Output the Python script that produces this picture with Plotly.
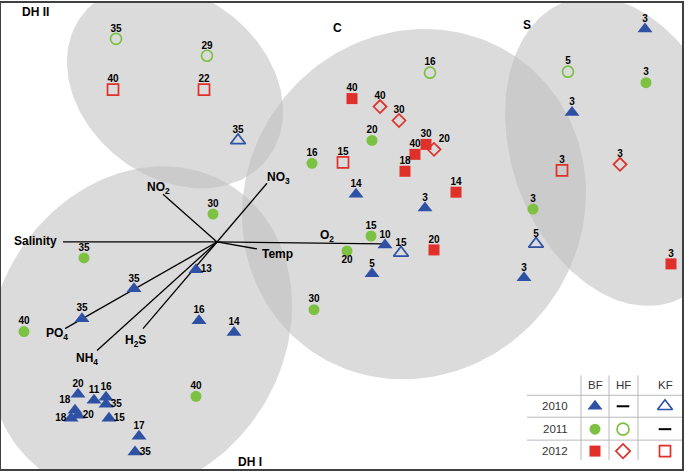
import numpy as np
import plotly.graph_objects as go

# site scores on the two ordination axes (plot units), text = sample depth
bf2010_x = [645, 572, 356, 425, 385, 372, 524, 196, 134, 82, 199, 234, 78, 94, 106, 106, 75, 78, 71, 109, 139, 135]
bf2010_y = [444, 360, 278, 264, 227, 198, 194, 202, 183, 153, 151, 139, 77, 71, 74, 67, 61, 56, 53, 53, 35, 19]
bf2010_lab = ["3", "3", "14", "3", "10", "5", "3", "13", "35", "35", "16", "14",
              "20", "11", "16", "35", "18", "20", "18", "15", "17", "35"]

bf2011_x = [646, 372, 312, 533, 213, 371, 347, 84, 314, 24, 196]
bf2011_y = [390, 332, 309, 263, 258, 236, 221, 214, 162, 140, 75]
bf2011_lab = ["3", "20", "16", "3", "30", "15", "20", "35", "30", "40", "40"]

bf2012_x = [352, 426, 415, 405, 456, 434, 671]
bf2012_y = [374, 328, 318, 301, 280, 222, 208]
bf2012_lab = ["40", "30", "40", "18", "14", "20", "3"]

hf2011_x = [116, 207, 430, 568]
hf2011_y = [434, 417, 400, 401]
hf2011_lab = ["35", "29", "16", "5"]

hf2012_x = [380, 399, 434, 620]
hf2012_y = [366, 352, 323, 308]
hf2012_lab = ["40", "30", "20", "3"]

kf2010_x = [238, 401, 536]
kf2010_y = [332, 219, 228]
kf2010_lab = ["35", "15", "5"]

kf2012_x = [113, 204, 343, 562]
kf2012_y = [383, 383, 310, 302]
kf2012_lab = ["40", "22", "15", "3"]

# environmental vectors (all start at the same origin)
env_names = ["Salinity", "O<sub>2</sub>", "Temp", "NO<sub>2</sub>", "NO<sub>3</sub>",
             "PO<sub>4</sub>", "NH<sub>4</sub>", "H<sub>2</sub>S"]
env_x0, env_y0 = 217, 230
env_x = [63, 383, 257, 163, 267, 65, 97, 143]
env_y = [230, 228, 223, 278, 289, 143, 121, 143]

# group ellipses
grp_names = ["DH II", "C", "S", "DH I"]
ell_cx = [175, 414, 620, 140]
ell_cy = [386, 268, 321, 141]
ell_a = [117.5, 179.7, 160, 171.7]
ell_b = [91, 168.1, 108, 144.4]
ell_ang = [-38.4, 55, -70.6, 59.2]

BLUE = "#2f51a3"
GREEN = "#7dc143"
RED = "#e0302a"
FONT = "Arial, Liberation Sans, sans-serif"

fig = go.Figure()

# ellipses
t = np.linspace(0, 2 * np.pi, 200)
for cx, cy, a, b, ang in zip(ell_cx, ell_cy, ell_a, ell_b, ell_ang):
    th = np.radians(ang)
    ex = cx + a * np.cos(t) * np.cos(th) - b * np.sin(t) * np.sin(th)
    ey = cy + a * np.cos(t) * np.sin(th) + b * np.sin(t) * np.cos(th)
    fig.add_trace(go.Scatter(x=ex, y=ey, mode="lines", fill="toself",
                             fillcolor="rgba(190,190,190,0.55)", line=dict(width=0),
                             hoverinfo="skip", showlegend=False))

# vectors
vx, vy = [], []
for x, y in zip(env_x, env_y):
    vx += [env_x0, x, None]
    vy += [env_y0, y, None]
fig.add_trace(go.Scatter(x=vx, y=vy, mode="lines", line=dict(color="black", width=1.3),
                         hoverinfo="skip", showlegend=False))

# where each depth label sits relative to its marker
sides = {
    "bf2010": ["top center"] * 7 + ["middle right"] + ["top center"] * 7 +
              ["middle right", "top left", "middle right", "middle left", "middle right",
               "top center", "middle right"],
    "bf2011": ["top center"] * 6 + ["bottom center"] + ["top center"] * 4,
    "hf2012": ["top center", "top center", "top right", "top center"],
}

series = [
    ("bf2010", bf2010_x, bf2010_y, bf2010_lab, dict(symbol="triangle-up", size=13, color=BLUE)),
    ("bf2011", bf2011_x, bf2011_y, bf2011_lab, dict(symbol="circle", size=11, color=GREEN)),
    ("bf2012", bf2012_x, bf2012_y, bf2012_lab, dict(symbol="square", size=11, color=RED)),
    ("hf2011", hf2011_x, hf2011_y, hf2011_lab,
     dict(symbol="circle-open", size=11, color=GREEN, line=dict(width=1.7))),
    ("hf2012", hf2012_x, hf2012_y, hf2012_lab,
     dict(symbol="diamond-open", size=10, color=RED, line=dict(width=1.7))),
    ("kf2010", kf2010_x, kf2010_y, kf2010_lab,
     dict(symbol="triangle-up-open", size=13, color=BLUE, line=dict(width=1.7))),
    ("kf2012", kf2012_x, kf2012_y, kf2012_lab,
     dict(symbol="square-open", size=11, color=RED, line=dict(width=1.7))),
]
for key, xs, ys, labs, mk in series:
    fig.add_trace(go.Scatter(x=xs, y=ys, mode="markers", marker=mk,
                             showlegend=False, name=key))
    # labels sit a little closer than plotly's default offset for these marker sizes
    fig.add_trace(go.Scatter(
        x=xs, y=ys, mode="markers+text", text=labs,
        textposition=sides.get(key, "top center"),
        textfont=dict(family=FONT, size=10, color="black", weight="bold"),
        marker=dict(size=6, opacity=0), showlegend=False, hoverinfo="skip"))

# vector labels
label_shift = [(-4, 1), (-56, 8), (20, -5), (-5, 6), (11, 5), (-8, -5), (-10, -8), (-8, -12)]
for name, x, y, (dx, dy) in zip(env_names, env_x, env_y, label_shift):
    fig.add_annotation(x=x, y=y, text=name, showarrow=False, xshift=dx, yshift=dy,
                       xanchor="right" if name == "Salinity" else "center",
                       font=dict(family=FONT, size=12, color="black", weight="bold"))

# group names
grp_pos = [(35, 461), (337, 445), (527, 448), (250, 9)]
for name, (x, y) in zip(grp_names, grp_pos):
    fig.add_annotation(x=x, y=y, text=name, showarrow=False,
                       font=dict(family=FONT, size=12, color="black", weight="bold"))

# symbol key table (bottom right)
col_x = [595, 623, 665]
row_y = [65, 42, 20]
grid = "#b9b9b9"
for x in [581, 609, 638]:
    fig.add_shape(type="line", x0=x, x1=x, y0=11, y1=96, line=dict(color=grid, width=1))
for y in [76, 54, 31]:
    fig.add_shape(type="line", x0=527, x1=682, y0=y, y1=y, line=dict(color=grid, width=1))
for x, txt in zip(col_x, ["BF", "HF", "KF"]):
    fig.add_annotation(x=x, y=86, text=txt, showarrow=False,
                       font=dict(family=FONT, size=11.5, color="#333"))
for y, txt in zip(row_y, ["2010", "2011", "2012"]):
    fig.add_annotation(x=555, y=y, text=txt, showarrow=False,
                       font=dict(family=FONT, size=11.5, color="#333"))
key_marks = [
    (0, 0, dict(symbol="triangle-up", size=13, color=BLUE)),
    (1, 0, dict(symbol="line-ew", size=9, color="black", line=dict(width=2, color="black"))),
    (2, 0, dict(symbol="triangle-up-open", size=13, color=BLUE, line=dict(width=1.7))),
    (0, 1, dict(symbol="circle", size=11, color=GREEN)),
    (1, 1, dict(symbol="circle-open", size=12, color=GREEN, line=dict(width=1.7))),
    (2, 1, dict(symbol="line-ew", size=9, color="black", line=dict(width=2, color="black"))),
    (0, 2, dict(symbol="square", size=11, color=RED)),
    (1, 2, dict(symbol="diamond-open", size=11, color=RED, line=dict(width=1.7))),
    (2, 2, dict(symbol="square-open", size=11, color=RED, line=dict(width=1.7))),
]
for c, r, mk in key_marks:
    fig.add_trace(go.Scatter(x=[col_x[c]], y=[row_y[r]], mode="markers", marker=mk,
                             showlegend=False, hoverinfo="skip"))

fig.update_xaxes(range=[1, 682], visible=True, showgrid=False, zeroline=False,
                 showticklabels=False, ticks="", showline=True, mirror=True,
                 linecolor="#404040", linewidth=2)
fig.update_yaxes(range=[2, 470], showgrid=False, zeroline=False,
                 showticklabels=False, ticks="", showline=True, mirror=True,
                 linecolor="#404040", linewidth=2)
fig.update_layout(width=685, height=471, margin=dict(l=1, r=3, t=1, b=2),
                  plot_bgcolor="white", paper_bgcolor="white")

# drop the browser's default 8px page margin so the figure sits at the corner
fig.write_html("out.html", config={"displayModeBar": False},
               post_script="document.body.style.margin='0';")
